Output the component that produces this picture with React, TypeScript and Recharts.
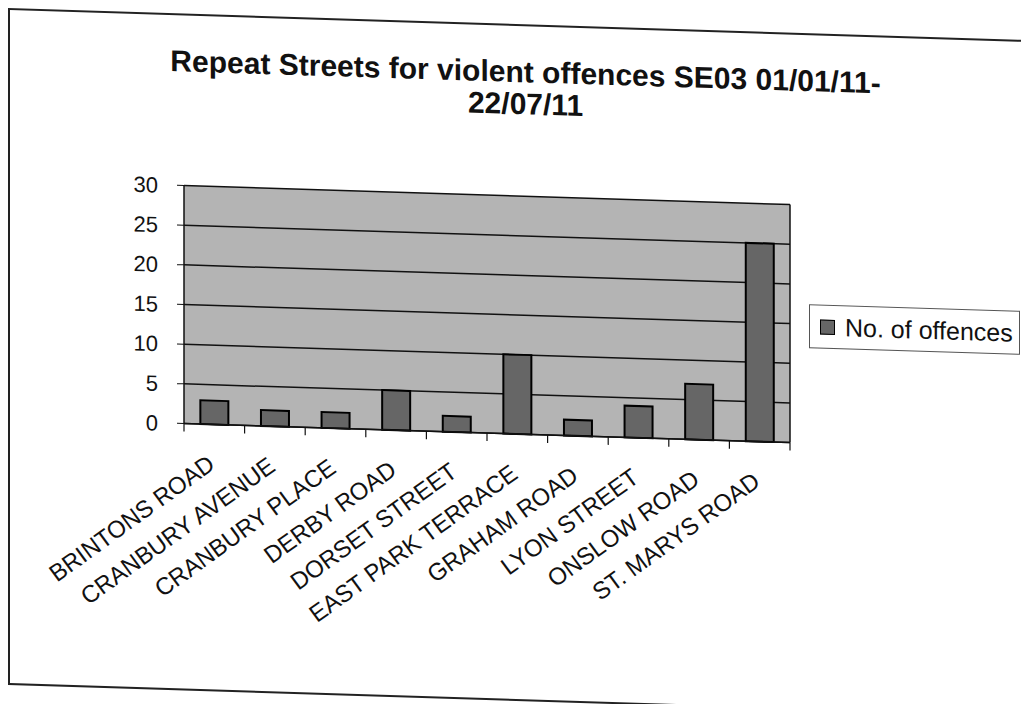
import { BarChart, Bar, XAxis, YAxis, CartesianGrid, Legend } from "recharts";

const streets = [
  "BRINTONS ROAD",
  "CRANBURY AVENUE",
  "CRANBURY PLACE",
  "DERBY ROAD",
  "DORSET STREET",
  "EAST PARK TERRACE",
  "GRAHAM ROAD",
  "LYON STREET",
  "ONSLOW ROAD",
  "ST. MARYS ROAD",
];
const offences = [3, 2, 2, 5, 2, 10, 2, 4, 7, 25];
const yTicks = [0, 5, 10, 15, 20, 25, 30];
const seriesName = "No. of offences";

const data = streets.map((street, i) => ({ street, offences: offences[i] }));

const FONT = '"Liberation Sans", Arial, sans-serif';
const BAR_FILL = "#666666";
const LEGEND_W = 211;

// label plus Excel-style tick marks between the categories
function StreetTick(props: any) {
  const { x, y, payload, width, index } = props;
  const band = width / streets.length;
  return (
    <g transform={`translate(${x},${y})`}>
      <line x1={-band / 2} y1={0} x2={-band / 2} y2={8} stroke="#111" strokeWidth={1.2} />
      {index === streets.length - 1 && (
        <line x1={band / 2} y1={0} x2={band / 2} y2={8} stroke="#111" strokeWidth={1.2} />
      )}
      <g transform="translate(2,43) rotate(-37)">
        <text x={0} y={0} textAnchor="end" fontSize={24} fontFamily={FONT} fill="#111">
          {payload.value}
        </text>
      </g>
    </g>
  );
}

function LegendBox() {
  return (
    <div
      style={{
        width: LEGEND_W,
        height: 44,
        boxSizing: "border-box",
        border: "1px solid #555",
        background: "#fff",
        display: "flex",
        alignItems: "center",
        paddingLeft: 10,
        fontFamily: FONT,
        fontSize: 25,
        color: "#111",
        whiteSpace: "nowrap",
      }}
    >
      <span
        style={{
          width: 13,
          height: 13,
          background: BAR_FILL,
          border: "1.5px solid #000",
          marginRight: 10,
          display: "inline-block",
        }}
      />
      {seriesName}
    </div>
  );
}

export default function App() {
  return (
    <div style={{ width: 1021, height: 696, overflow: "hidden" }}>
      <div
        style={{
          position: "relative",
          width: 1018,
          height: 677,
          boxSizing: "border-box",
          border: "2px solid #222",
          background: "#fff",
          transform: "skewY(1.8deg)",
          transformOrigin: "0 0",
        }}
      >
        <div
          style={{
            position: "absolute",
            top: 30,
            left: 17,
            right: 0,
            textAlign: "center",
            fontFamily: FONT,
            fontWeight: "bold",
            fontSize: 30,
            lineHeight: "32px",
            color: "#111",
          }}
        >
          Repeat Streets for violent offences SE03 01/01/11-
          <br />
          22/07/11
        </div>
        <div style={{ position: "absolute", top: 0, left: 0 }}>
          <BarChart
            width={1014}
            height={673}
            data={data}
            barCategoryGap="27%"
            // the legend takes its own width off the right side, so the margin is smaller by that
            margin={{ top: 170, right: 234 - LEGEND_W, left: 104, bottom: 0 }}
          >
            <CartesianGrid
              vertical={true}
              horizontal={true}
              verticalCoordinatesGenerator={({ offset }: any) => [offset.left + offset.width]}
              fill="#b4b4b4"
              fillOpacity={1}
              stroke="#111"
              strokeWidth={1.5}
            />
            <XAxis
              dataKey="street"
              interval={0}
              tickLine={false}
              tickSize={0}
              tickMargin={0}
              axisLine={{ stroke: "#111", strokeWidth: 1.5 }}
              tick={<StreetTick />}
              height={265}
            />
            <YAxis
              domain={[0, 30]}
              ticks={yTicks}
              width={70}
              tickSize={7}
              tickMargin={19}
              axisLine={{ stroke: "#111", strokeWidth: 1.5 }}
              tickLine={{ stroke: "#111" }}
              tick={{ fontSize: 22, fontFamily: FONT, fill: "#111" }}
            />
            <Legend
              layout="horizontal"
              verticalAlign="middle"
              align="right"
              content={<LegendBox />}
              wrapperStyle={{ position: "absolute", top: 269, left: 799, width: LEGEND_W }}
            />
            <Bar
              dataKey="offences"
              name={seriesName}
              fill={BAR_FILL}
              stroke="#000"
              strokeWidth={2}
              isAnimationActive={false}
            />
          </BarChart>
        </div>
      </div>
    </div>
  );
}
